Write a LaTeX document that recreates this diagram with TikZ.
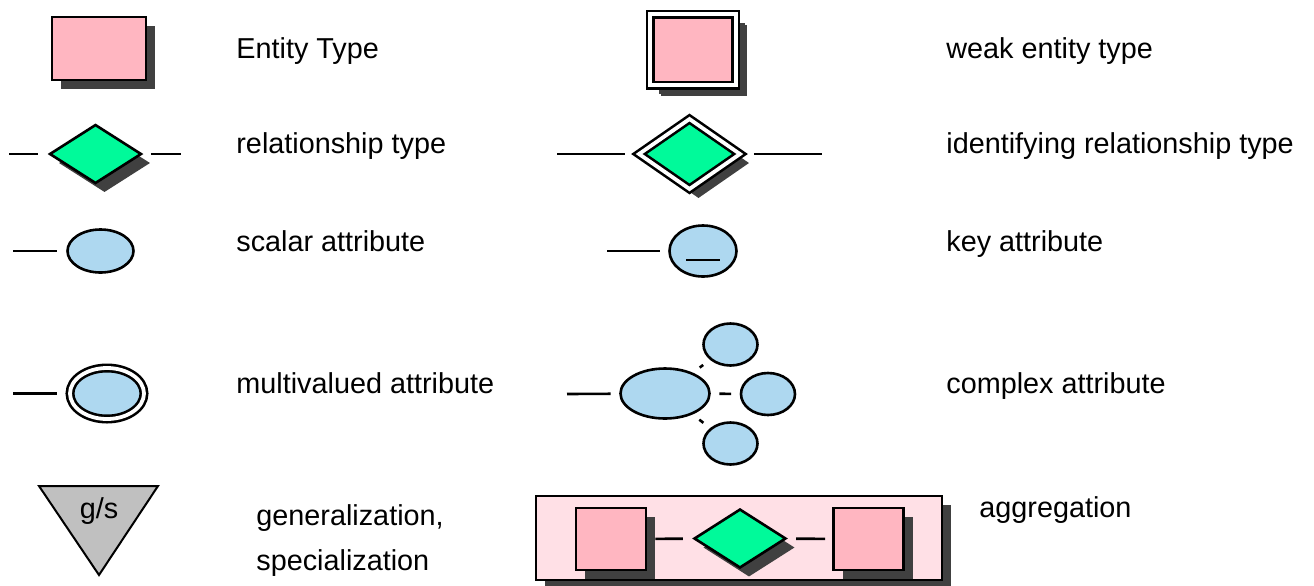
\documentclass[tikz,border=0pt]{standalone}
\usepackage{fontspec}
\setmainfont{Liberation Sans}
\usetikzlibrary{positioning,shapes,shadows}
\definecolor{entpink}{RGB}{255,182,193}
\definecolor{relgreen}{RGB}{0,250,154}
\definecolor{attrblue}{RGB}{174,216,240}
\definecolor{shadowgray}{RGB}{64,64,64}
\definecolor{aggpink}{RGB}{255,224,230}
\definecolor{gengray}{RGB}{192,192,192}
\tikzstyle{boxshadow} = [drop shadow={shadow xshift=4.5pt,shadow yshift=-4.5pt,opacity=1,fill=shadowgray}]
\tikzstyle{entity} = [rectangle,draw,line width=1.3pt,fill=entpink,inner sep=0pt,minimum width=47pt,minimum height=31.5pt,boxshadow]
\tikzstyle{weak} = [entity,double,double distance=1.9pt,minimum width=42.75pt,minimum height=35.5pt,
  drop shadow={shadow xshift=5.5pt,shadow yshift=-5.5pt,opacity=1,fill=shadowgray}]
\tikzstyle{rel} = [diamond,draw,line width=1.3pt,fill=relgreen,inner sep=0pt,minimum width=46pt,minimum height=29.5pt,boxshadow]
\tikzstyle{idrel} = [rel,double,double distance=1.9pt,minimum width=51pt,minimum height=35.5pt]
\tikzstyle{attr} = [ellipse,draw,line width=1.3pt,fill=attrblue,inner sep=0pt,minimum width=33pt,minimum height=21.5pt]
\tikzstyle{multi} = [attr,double,double distance=1.9pt,minimum width=37pt,minimum height=25.5pt]
\tikzstyle{subattr} = [attr,minimum width=27pt,minimum height=21pt]
\tikzstyle{link} = [draw=black,line width=1.3pt]
\tikzstyle{stub} = [link,shorten <=4.25pt,shorten >=4.25pt]
\tikzstyle{desc} = [anchor=base west,inner sep=0pt]

\begin{document}
\begin{tikzpicture}[x=0.5pt,y=-0.5pt,font=\fontsize{14.4}{17}\selectfont]
  \useasboundingbox (0,0) rectangle (1314,585);

  % symbols, left column
  \node[entity] (ent) at (99,48.5) {};
  \node[rel] (rel) at (95.5,154) {};
  \node[attr] (sca) at (100.5,251) {};
  \node[multi] (mul) at (107,393.5) {};
  \draw[fill=gengray,line width=1pt] (39,486) -- (158,486) -- (99,575) -- cycle;
  \node[anchor=base,inner sep=0pt] (gs) at (99,518) {g/s};

  % symbols, right column
  \node[weak] (wea) at (693,49.5) {};
  \node[idrel] (idr) at (689.5,154) {};
  \node[attr,minimum width=33.5pt,minimum height=25.5pt] (key) at (703,251) {};
  \draw[link] ([xshift=-8.5pt,yshift=-4.5pt]key.center) -- ++(34,0);
  \node[attr,minimum width=44.5pt,minimum height=25pt] (cx) at (665,393.5) {};
  \node[subattr] (cxa) at (730.5,344.5) {};
  \node[subattr] (cxb) at (768,394) {};
  \node[subattr] (cxc) at (730.5,443.5) {};

  % aggregation
  \node[entity,fill=aggpink,minimum width=203pt,minimum height=42pt] (agg) at (739,538) {};
  \node[entity,minimum width=35pt,minimum height=31pt] (ae1) at (611,539) {};
  \node[rel] (ar) at (740,538.5) {};
  \node[entity,minimum width=35pt,minimum height=31pt] (ae2) at (868.5,539) {};

  % free ends of the connectors
  \coordinate (rl) at (9,154);
  \coordinate (rr) at (181,154);
  \coordinate (il) at (557,154);
  \coordinate (ir) at (822,154);
  \coordinate (sl) at (13,251);
  \coordinate (kl) at (607,251);
  \coordinate (ml) at (13,393.5);
  \coordinate (cl) at (567,394);

  \path[link,shorten >=5pt] (rl) -- (rel);
  \path[link,shorten <=4pt] (rel) -- (rr);
  \path[link,shorten >=6pt] (il) -- (idr);
  \path[link,shorten <=6pt] (idr) -- (ir);
  \path[link,shorten >=4.75pt] (sl) -- (sca);
  \path[link,shorten >=4.25pt] (kl) -- (key);
  \path[link,shorten >=6pt] (ml) -- (mul);
  \path[link,shorten >=4.25pt] (cl) -- (cx);
  \foreach \dest in {cxa,cxb,cxc}
    \path[stub] (cx) -- (\dest);
  \path[link,shorten <=4pt,shorten >=5pt] (ae1) -- (ar);
  \path[link,shorten <=4.5pt,shorten >=3.5pt] (ar) -- (ae2);

  % texts
  \foreach \pos / \name / \txt in {{(236,58)/tent/Entity Type}, {(946,58)/twea/weak entity type},
                                   {(236,153)/trel/relationship type}, {(946,153)/tidr/identifying relationship type},
                                   {(236,251)/tsca/scalar attribute}, {(946,251)/tkey/key attribute},
                                   {(236,393)/tmul/multivalued attribute}, {(946,393)/tcx/complex attribute},
                                   {(979,517)/tagg/aggregation}}
    \node[desc] (\name) at \pos {\txt};
  \node[desc] (tgen) at (256,525) {generalization,};
  \node[desc] (tspe) at ([yshift=-22.5pt]tgen.base west) {specialization};
\end{tikzpicture}
\end{document}
